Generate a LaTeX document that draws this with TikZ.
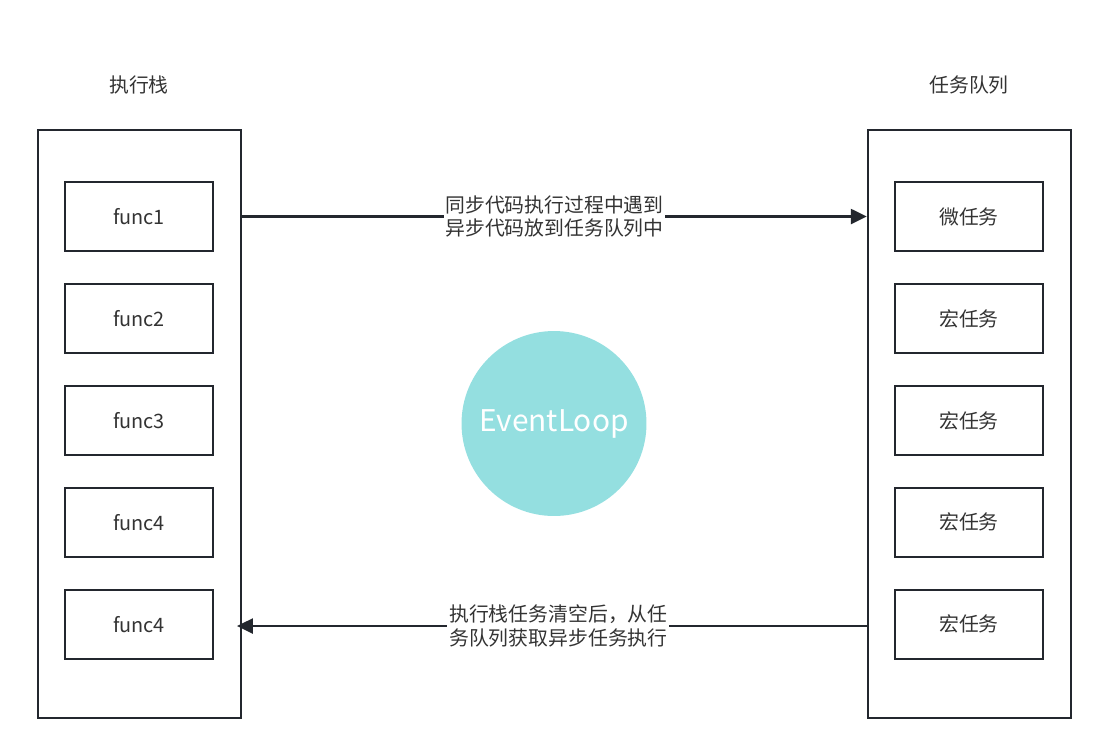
\documentclass[tikz,border=0pt]{standalone}
\usepackage{fontspec}
\setmainfont{Noto Sans CJK SC}
\usepackage{tikz}
\usetikzlibrary{arrows.meta,positioning,shapes.geometric}

\definecolor{linegray}{HTML}{23272E}
\definecolor{textgray}{HTML}{333333}
\definecolor{loopcyan}{HTML}{94DFE0}

\begin{document}
\begin{tikzpicture}[x=0.02cm,y=-0.02cm,node distance=0.61cm,>={Triangle[length=0.32cm,width=0.3cm]},
  font=\fontsize{11.3pt}{14pt}\selectfont,text=textgray]
  \tikzset{
    outer/.style={draw=linegray,line width=1.4pt,minimum width=4.06cm,minimum height=11.76cm,inner sep=0pt},
    item/.style={draw=linegray,line width=1.4pt,minimum width=2.96cm,minimum height=1.38cm,inner sep=0pt},
    flow/.style={->,draw=linegray,line width=1.4pt},
    msg/.style={fill=white,inner sep=1pt,align=center,font=\fontsize{11.3pt}{13.6pt}\selectfont}
  }
  \useasboundingbox (0,0) rectangle (1108,755);
  % stack side
  \node (S) [outer] at (139.5,424) {};
  \node (Sl) at (139,85) {执行栈};
  \node (F1) [item] at (139,216.5) {func1};
  \node (F2) [item,below=of F1] {func2};
  \node (F3) [item,below=of F2] {func3};
  \node (F4) [item,below=of F3] {func4};
  \node (F5) [item,below=of F4] {func4};
  % queue side
  \node (Q) [outer] at (969.5,424) {};
  \node (Ql) at (969,85) {任务队列};
  \node (T1) [item] at (969,216.5) {微任务};
  \node (T2) [item,below=of T1] {宏任务};
  \node (T3) [item,below=of T2] {宏任务};
  \node (T4) [item,below=of T3] {宏任务};
  \node (T5) [item,below=of T4] {宏任务};
  % loop
  \node (L) [circle,fill=loopcyan,minimum size=3.7cm,inner sep=0pt,text=white,
    font=\fontsize{17pt}{20pt}\selectfont] at (554,423.5) {EventLoop};
  \draw[flow] (S.east |- T1) -- node[msg] {同步代码执行过程中遇到\\异步代码放到任务队列中} (Q.west |- T1);
  \draw[flow] ([yshift=-1pt]Q.west |- T5) -- node[msg,xshift=0.13cm] {执行栈任务清空后，从任\\务队列获取异步任务执行} ([xshift=-3pt,yshift=-1pt]S.east |- T5);
\end{tikzpicture}
\end{document}
